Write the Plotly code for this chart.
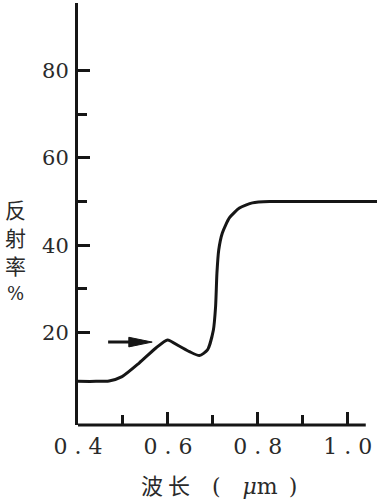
import plotly.graph_objects as go

wavelength = [0.400, 0.440, 0.469, 0.498, 0.536, 0.574, 0.599, 0.625, 0.648, 0.670,
              0.688, 0.701, 0.706, 0.709, 0.713, 0.721, 0.737, 0.759, 0.788, 0.826,
              0.900, 1.000, 1.068]
reflectance = [8.8, 8.8, 8.9, 9.9, 13.0, 16.5, 18.3, 16.9, 15.6, 14.7,
               16.0, 20.5, 25.9, 33.6, 38.9, 42.8, 46.3, 48.5, 49.7, 50.0,
               50.0, 50.0, 50.0]

y_major = [20, 40, 60, 80]
y_minor = [30, 50, 70]
x_major = [0.4, 0.6, 0.8, 1.0]
x_major_text = ["0 . 4", "0 . 6", "0 . 8", "1 . 0"]
x_minor = [0.5, 0.7, 0.9]

arrow_tail = (0.467, 17.8)
arrow_tip = (0.565, 17.8)
y_title_chars = ["反", "射", "率", "%"]

ink = "#161616"
serif = "DejaVu Serif"
cjk = "Noto Sans CJK SC"

fig = go.Figure()
fig.add_trace(go.Scatter(
    x=wavelength, y=reflectance, mode="lines",
    line=dict(color=ink, width=3, shape="spline", smoothing=0.6),
    showlegend=False, hoverinfo="skip",
))

fig.update_layout(
    width=380, height=502,
    margin=dict(l=78, r=3, t=3, b=77),
    paper_bgcolor="white", plot_bgcolor="white",
    font=dict(family=serif),
    xaxis=dict(
        range=[0.4, 1.065], showgrid=False, zeroline=False, showline=False,
        tickmode="array", tickvals=x_major, ticktext=x_major_text,
        ticks="inside", ticklen=13, tickwidth=3, tickcolor=ink,
        minor=dict(tickmode="array", tickvals=x_minor, ticks="inside",
                   ticklen=10, tickwidth=3, tickcolor=ink),
        tickfont=dict(family=serif, size=22, color="#2a2a2a"),
        ticklabelstandoff=6,
    ),
    yaxis=dict(
        range=[-1.2, 95.5], showgrid=False, zeroline=False,
        showline=True, linewidth=3, linecolor=ink,
        tickmode="array", tickvals=y_major,
        ticks="inside", ticklen=12, tickwidth=3, tickcolor=ink,
        minor=dict(tickmode="array", tickvals=y_minor, ticks="inside",
                   ticklen=9, tickwidth=3, tickcolor=ink),
        tickfont=dict(family=serif, size=21, color="#2a2a2a"),
        ticklabelstandoff=2,
    ),
)

# x-axis baseline (ends before the curve does)
fig.add_shape(type="line", xref="x", yref="paper", x0=0.4, x1=1.04, y0=0, y1=0,
              line=dict(color=ink, width=3))

# arrow pointing at the small peak: shaft + slender wedge head
head_len = 0.052   # in x units
head_half = 1.1    # in y units
fig.add_shape(type="line", xref="x", yref="y",
              x0=arrow_tail[0], y0=arrow_tail[1],
              x1=arrow_tip[0] - head_len * 0.5, y1=arrow_tip[1],
              line=dict(color=ink, width=3))
fig.add_shape(
    type="path", xref="x", yref="y",
    path=(f"M {arrow_tip[0]},{arrow_tip[1]} "
          f"L {arrow_tip[0] - head_len},{arrow_tip[1] + head_half} "
          f"L {arrow_tip[0] - head_len},{arrow_tip[1] - head_half} Z"),
    fillcolor=ink, line=dict(color=ink, width=1),
)

# y-axis title, stacked vertically (one character per line)
for i, ch in enumerate(y_title_chars):
    fig.add_annotation(
        text=ch, xref="paper", yref="paper",
        x=-0.21, y=0.513 - i * 0.0675,
        xanchor="center", yanchor="middle", showarrow=False,
        font=dict(family=(serif if ch == "%" else cjk), size=(18 if ch == "%" else 21),
                  color="#2a2a2a"),
    )

# x-axis title
fig.add_annotation(
    text=("波 长\u2003"
          f"<span style='font-family:{serif}'>(\u2003<i>μ</i>m\u2002)</span>"),
    xref="paper", yref="paper", x=0.47, y=-0.14,
    xanchor="center", yanchor="middle", showarrow=False,
    font=dict(family=cjk, size=22, color="#2a2a2a"),
)

fig.write_html("out.html")
